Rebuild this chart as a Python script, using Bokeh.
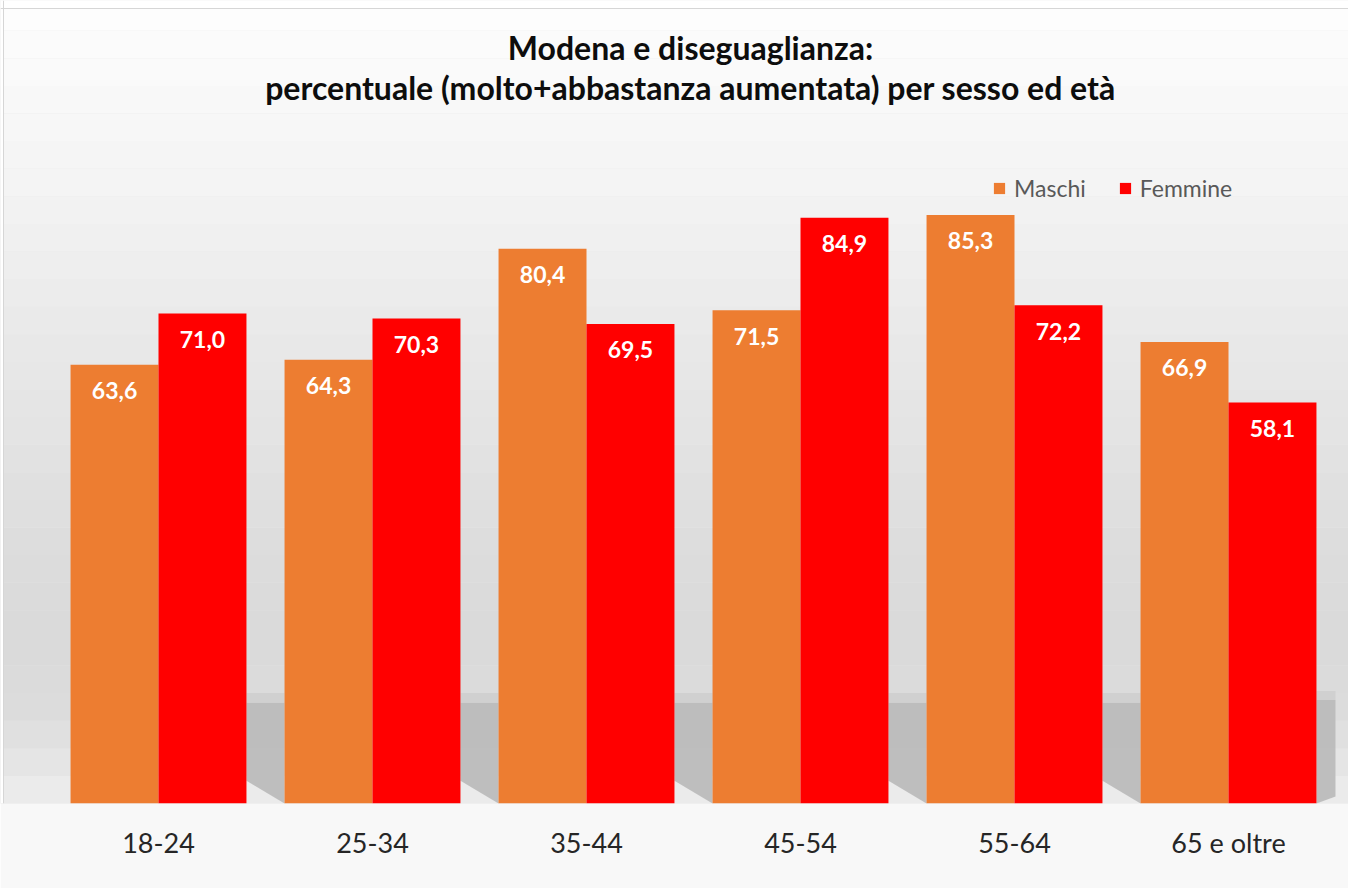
from bokeh.plotting import figure
from bokeh.models import ColumnDataSource, Range1d, BoxAnnotation, FixedTicker, Span
from bokeh.transform import dodge
from bokeh.core.properties import value
from bokeh.embed import file_html
from bokeh.resources import INLINE

# ---- data ----
categories = ["18-24", "25-34", "35-44", "45-54", "55-64", "65 e oltre"]
maschi = [63.6, 64.3, 80.4, 71.5, 85.3, 66.9]
femmine = [71.0, 70.3, 69.5, 84.9, 72.2, 58.1]

title_line1 = "Modena e diseguaglianza:"
title_line2 = "percentuale (molto+abbastanza aumentata) per sesso ed età"

ORANGE = "#ED7D31"
RED = "#FF0000"
FONT = "Lato"

def fmt(v):
    return f"{v:.1f}".replace(".", ",")

centers = [i + 0.5 for i in range(len(categories))]
src = ColumnDataSource(dict(
    xc=centers,
    cat=categories,
    maschi=maschi,
    femmine=femmine,
    m_lab=[fmt(v) for v in maschi],
    f_lab=[fmt(v) for v in femmine],
))

W, H = 1348, 888
n = len(categories)
PX_X = 214.0   # pixels per category
PX_Y = 6.9     # pixels per percentage point
p = figure(
    title=None,
    x_range=Range1d(-51 / PX_X, n + (W - 1335) / PX_X),
    y_range=Range1d(0, 803 / PX_Y),
    width=W, height=H,
    output_backend="svg", toolbar_location=None,
    min_border_left=0, min_border_right=0,
    min_border_top=0, min_border_bottom=H - 803,
    background_fill_color="#e6e6e6",
    border_fill_color="#f8f8f8",
)

# background gradient bands (decoration)
band_edges = [0, 4, 8, 12, 16, 20, 24, 28, 32, 36, 40, 44, 48, 52, 56, 60,
              64, 68, 72, 76, 80, 84, 88, 92, 96, 100, 104, 108, 112, 117]
band_colors = ["#ebebeb", "#e5e5e5", "#e0e0e0", "#dcdcdc", "#dbdbdb", "#dadada",
               "#dadada", "#dbdbdb", "#dcdcdc", "#dddddd", "#dfdfdf", "#e0e0e0",
               "#e2e2e2", "#e4e4e4", "#e5e5e5", "#e7e7e7", "#e8e8e8", "#eaeaea",
               "#ececec", "#eeeeee", "#f0f0f0", "#f2f2f2", "#f4f4f4", "#f5f5f5",
               "#f7f7f7", "#f8f8f8", "#fafafa", "#fbfbfb", "#fdfdfd"]
for b, t, c in zip(band_edges[:-1], band_edges[1:], band_colors):
    p.add_layout(BoxAnnotation(bottom=b, top=t, fill_color=c, fill_alpha=1.0,
                               line_color=None, level="underlay"))

# chart-area border (thin light frame at top and left, white outside it)
top_edge = (803 - 8) / PX_Y
left_edge = (3 - 51) / PX_X
p.add_layout(BoxAnnotation(bottom=top_edge, fill_color="white", fill_alpha=1.0,
                           line_color=None, level="underlay"))
p.add_layout(BoxAnnotation(right=left_edge, fill_color="white", fill_alpha=1.0,
                           line_color=None, level="underlay"))
p.add_layout(Span(location=top_edge, dimension="width", line_color="#d6d6d6",
                  line_width=1))
p.add_layout(Span(location=left_edge, dimension="height", line_color="#d6d6d6",
                  line_width=1))

# shadows behind groups (decoration)
half = 0.411
xs, ys, xs2, ys2 = [], [], [], []
for i in range(n - 1):
    x0 = i + 0.5 + half
    x1 = i + 1.5 - half
    xs.append([x0, x1, x1, x0])
    ys.append([3.3, 0.0, 14.6, 14.6])
    xs2.append([x0, x1, x1, x0])
    ys2.append([14.6, 14.6, 16.0, 16.0])
last = n - 0.5 + half
xs.append([last, n, n, last])
ys.append([0.0, 1.0, 15.0, 15.0])
xs2.append([last, n, n, last])
ys2.append([15.0, 15.0, 16.3, 16.3])
p.patches(xs, ys, fill_color="#b9b9b9", fill_alpha=0.9, line_color=None)
p.patches(xs2, ys2, fill_color="#c8c8c8", fill_alpha=0.6, line_color=None)

# bars
bw = 0.411
p.vbar(x=dodge("xc", -bw / 2), top="maschi", width=bw,
       source=src, color=ORANGE, line_color=None, legend_label="Maschi")
p.vbar(x=dodge("xc", bw / 2), top="femmine", width=bw,
       source=src, color=RED, line_color=None, legend_label="Femmine")

# value labels
for col, lab, off in (("maschi", "m_lab", -bw / 2), ("femmine", "f_lab", bw / 2)):
    p.text(x=dodge("xc", off), y=col, text=lab, source=src,
           text_align="center", text_baseline="middle", y_offset=26,
           text_color="white", text_font=value(FONT), text_font_size="23px",
           text_font_style="bold")

# title (two lines)
p.text(x=[n / 2, n / 2], y=[109.6, 103.8], text=[title_line1, title_line2],
       x_offset=-3, text_align="center", text_baseline="middle",
       text_color="#0d0d0d", text_font=value(FONT), text_font_size="32px",
       text_font_style="bold")

# axes / grid
p.yaxis.visible = False
p.xgrid.grid_line_color = None
p.ygrid.grid_line_color = None
p.outline_line_color = None
p.xaxis.ticker = FixedTicker(ticks=centers)
p.xaxis.major_label_overrides = {c: lab for c, lab in zip(centers, categories)}
p.xaxis.axis_line_color = None
p.xaxis.major_tick_line_color = None
p.xaxis.minor_tick_line_color = None
p.xaxis.major_label_text_font = FONT
p.xaxis.major_label_text_font_size = "27px"
p.xaxis.major_label_text_color = "#262626"
p.xaxis.major_label_standoff = 16

# legend
lg = p.legend[0]
lg.orientation = "horizontal"
lg.location = (992, 601)
lg.background_fill_alpha = 0
lg.border_line_color = None
lg.padding = 0
lg.margin = 0
lg.spacing = 32
lg.glyph_width = 14
lg.glyph_height = 14
lg.label_standoff = 8
lg.label_text_font = FONT
lg.label_text_font_size = "23px"
lg.label_text_color = "#595959"

open("out.html", "w").write(file_html(p, INLINE))
